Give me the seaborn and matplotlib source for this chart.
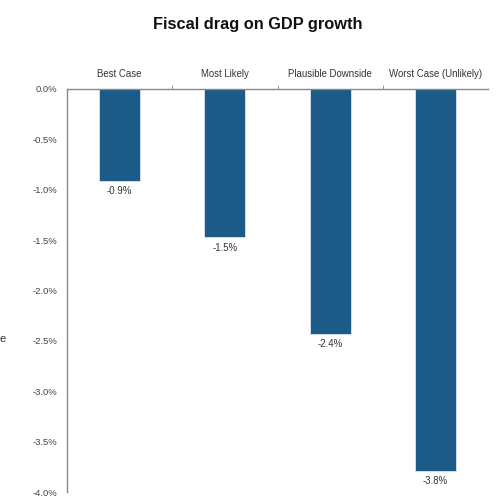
import matplotlib
matplotlib.use("Agg")
import matplotlib.pyplot as plt
import matplotlib.ticker as mticker
import seaborn as sns
import pandas as pd

categories = ["Best Case", "Most Likely", "Plausible Downside", "Worst Case (Unlikely)"]
values = [-0.91, -1.47, -2.43, -3.79]
value_labels = ["-0.9%", "-1.5%", "-2.4%", "-3.8%"]
yticks = [0.0, -0.5, -1.0, -1.5, -2.0, -2.5, -3.0, -3.5, -4.0]

sns.set_style("white")
plt.rcParams['font.family'] = ['Liberation Sans Narrow', 'Liberation Sans', 'DejaVu Sans']

df = pd.DataFrame({"scenario": categories, "drag": values})

fig = plt.figure(figsize=(5.01, 4.98), dpi=100)
ax = fig.add_axes([67/501, 1 - 492/498, (488 - 67)/501, (492 - 89)/498])

sns.barplot(data=df, x="scenario", y="drag", color="#1c5a88", width=0.39,
            edgecolor="#d8e6f0", linewidth=0.6, saturation=1, ax=ax)

ax.set_ylim(-4.0, 0.0)
ax.set_xlim(-0.5, 3.5)
ax.set_yticks(yticks)
ax.yaxis.set_major_formatter(mticker.FuncFormatter(lambda v, p: f"{v:.1f}%"))
ax.set_xlabel("")
ax.set_ylabel("")

ax.xaxis.tick_top()
ax.tick_params(axis="x", which="major", length=0, pad=7, labelsize=6.9, colors="#333333")
ax.set_xticks([0.5, 1.5, 2.5], minor=True)
ax.tick_params(axis="x", which="minor", top=True, length=3, direction="out", color="#888888")
ax.tick_params(axis="y", length=3, direction="out", color="#888888", labelsize=6.8, labelcolor="#444444", pad=4)

for s in ["right", "bottom"]:
    ax.spines[s].set_visible(False)
for s in ["left", "top"]:
    ax.spines[s].set_color("#888888")
    ax.spines[s].set_linewidth(1.0)

for i, (v, lab) in enumerate(zip(values, value_labels)):
    ax.annotate(lab, xy=(i, v), xytext=(0, -4), textcoords="offset points",
                ha="center", va="top", fontsize=6.9, color="#333333")

fig.text(258/501, 1 - 24/498, "Fiscal drag on GDP growth", ha="center", va="center",
         fontsize=11.8, fontweight="bold", color="#111111",
         family=['Liberation Sans', 'DejaVu Sans'])
fig.text(0, 1 - 339/498, "e", ha="left", va="center", fontsize=8, color="#333333")

fig.savefig("out.png", dpi=100)
